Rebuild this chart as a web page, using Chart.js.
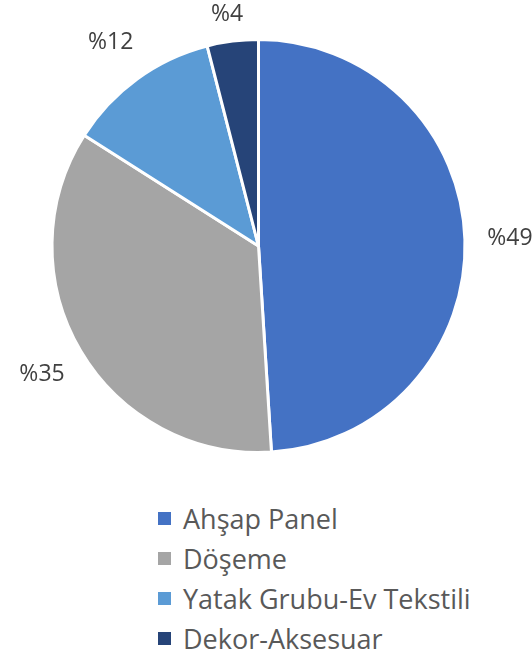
<!DOCTYPE html>
<html>
<head>
<meta charset="utf-8">
<script src="https://cdn.jsdelivr.net/npm/chart.js@4"></script>
<style>
  html, body { margin: 0; padding: 0; background: #fff; }
  #wrap { position: relative; width: 532px; height: 651px; }
  #legend { position: absolute; left: 158px; top: 498px; font-family: "Open Sans", sans-serif; font-size: 27px; color: #595959; }
  .item { height: 40px; display: flex; align-items: center; }
  .box { width: 13px; height: 13px; margin-right: 12px; }
</style>
</head>
<body>
<div id="wrap">
  <canvas id="pieChart" width="532" height="480"></canvas>
  <div id="legend"></div>
</div>
<script>
const categories = ['Ahşap Panel', 'Döşeme', 'Yatak Grubu-Ev Tekstili', 'Dekor-Aksesuar'];
const values = [49, 35, 12, 4];
const labels = ['%49', '%35', '%12', '%4'];
const colors = ['#4472C4', '#A5A5A5', '#5B9BD5', '#264478'];

// labels outside the slices, like the original
const outsideLabels = {
  id: 'outsideLabels',
  afterDatasetsDraw(chart) {
    const ctx = chart.ctx;
    const arcs = chart.getDatasetMeta(0).data;
    ctx.save();
    ctx.font = '23px "Open Sans", sans-serif';
    ctx.fillStyle = '#404040';
    ctx.textAlign = 'center';
    ctx.textBaseline = 'middle';
    arcs.forEach((arc, i) => {
      const a = (arc.startAngle + arc.endAngle) / 2;
      const d = arc.outerRadius + 45;
      const x = arc.x + Math.cos(a) * d;
      let y = arc.y + Math.sin(a) * d;
      if (y < 14) y = 14;
      ctx.fillText(labels[i], x, y);
    });
    ctx.restore();
  }
};

new Chart(document.getElementById('pieChart'), {
  type: 'pie',
  data: {
    labels: categories,
    datasets: [{
      data: values,
      backgroundColor: colors,
      borderColor: '#ffffff',
      borderWidth: 3
    }]
  },
  options: {
    responsive: false,
    animation: false,
    layout: { padding: { left: 50.5, right: 65.5, top: 38, bottom: 26 } },
    plugins: {
      legend: { display: false },
      tooltip: { enabled: false }
    }
  },
  plugins: [outsideLabels]
});

const legend = document.getElementById('legend');
categories.forEach((c, i) => {
  const row = document.createElement('div');
  row.className = 'item';
  row.innerHTML = '<span class="box" style="background:' + colors[i] + '"></span><span>' + c + '</span>';
  legend.appendChild(row);
});
</script>
</body>
</html>
